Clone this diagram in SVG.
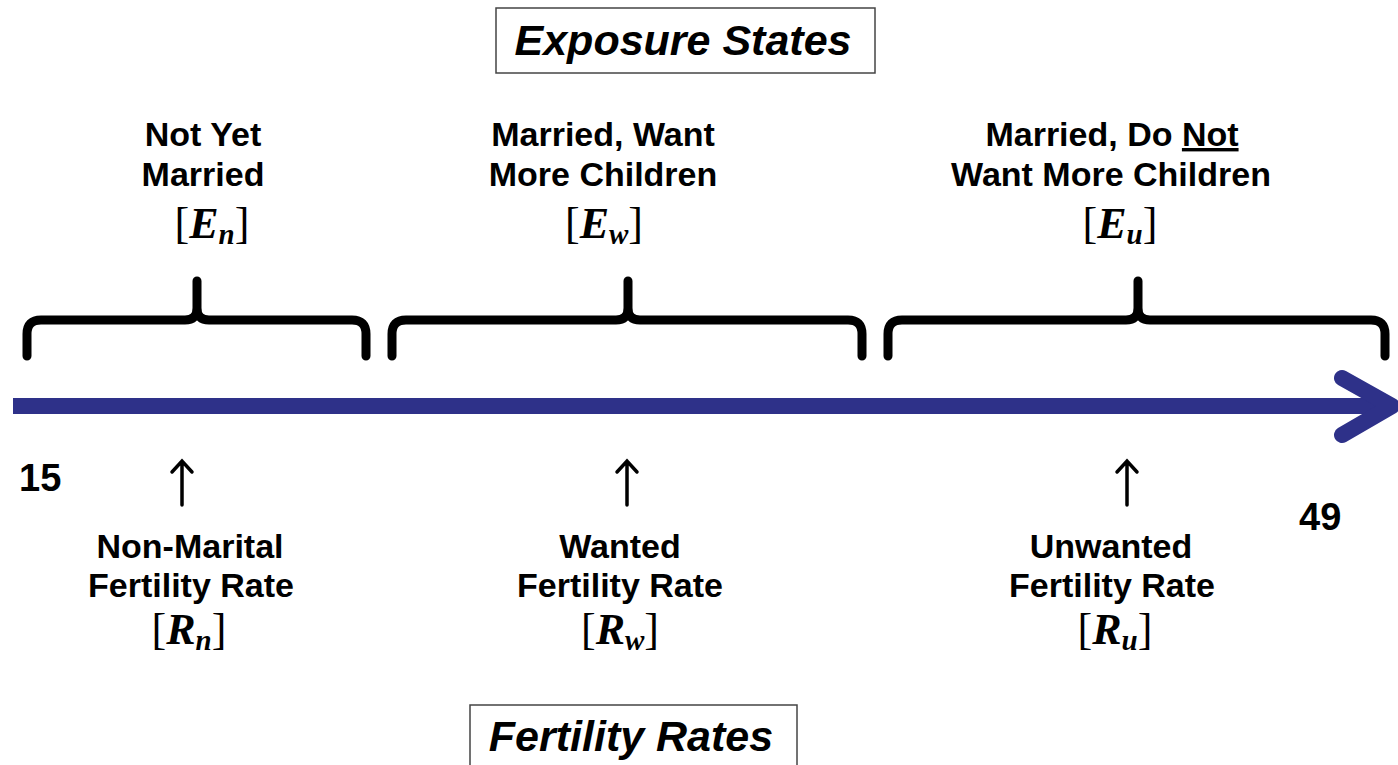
<svg xmlns="http://www.w3.org/2000/svg" width="1398" height="765" viewBox="0 0 1398 765">
<style>
.lbl{font-family:"Liberation Sans",Arial,sans-serif;font-weight:bold;font-size:34px;fill:#000;text-anchor:middle}
.ttl{font-family:"Liberation Sans",Arial,sans-serif;font-weight:bold;font-style:italic;font-size:43px;fill:#000;text-anchor:middle}
.num{font-family:"Liberation Sans",Arial,sans-serif;font-weight:bold;font-size:38px;fill:#000}
.math{font-family:"Liberation Serif","Times New Roman",serif;font-size:44px;fill:#000;text-anchor:middle}
.mi{font-weight:bold;font-style:italic}
.sub{font-weight:bold;font-style:italic;font-size:29px}
.box{fill:#fff;stroke:#444;stroke-width:1.5}
.brace{fill:none;stroke:#000;stroke-width:9;stroke-linecap:round;stroke-linejoin:round}
.up{fill:none;stroke:#000;stroke-width:3.5;stroke-linecap:round}
.axis{fill:none;stroke:#2E3189;stroke-width:16;stroke-linejoin:round}
</style>

<g id="title-exposure">
<rect class="box" x="496" y="8" width="379" height="65"/>
<text class="ttl" x="683" y="55">Exposure States</text>
</g>

<g id="title-fertility">
<rect class="box" x="470" y="705" width="327" height="70"/>
<text class="ttl" x="631" y="751">Fertility Rates</text>
</g>

<g id="axis">
<path class="axis" d="M13,406 H1388"/>
<path class="axis" d="M1342,378 L1392,406 L1342,435" stroke-width="17" stroke-linecap="round"/>
<text class="num" x="19" y="491">15</text>
<text class="num" x="1299" y="530">49</text>
</g>

<g id="state-n">
<path class="brace" d="M27,356 V334 Q27,320 41,320 H185 Q197,320 197,308 V281 M197,308 Q197,320 209,320 H352 Q366,320 366,334 V356"/>
<text class="lbl" x="203" y="146">Not Yet</text>
<text class="lbl" x="203" y="186">Married</text>
<text class="math" x="212" y="238">[<tspan class="mi">E</tspan><tspan class="sub" dy="6">n</tspan><tspan dy="-6">]</tspan></text>
</g>

<g id="state-w">
<path class="brace" d="M392,356 V334 Q392,320 406,320 H616 Q628,320 628,308 V281 M628,308 Q628,320 640,320 H848 Q862,320 862,334 V356"/>
<text class="lbl" x="603" y="146">Married, Want</text>
<text class="lbl" x="603" y="186">More Children</text>
<text class="math" x="604" y="238">[<tspan class="mi">E</tspan><tspan class="sub" dy="6">w</tspan><tspan dy="-6">]</tspan></text>
</g>

<g id="state-u">
<path class="brace" d="M888,356 V334 Q888,320 902,320 H1126 Q1138,320 1138,308 V281 M1138,308 Q1138,320 1150,320 H1371 Q1385,320 1385,334 V356"/>
<text class="lbl" x="1112" y="146">Married, Do <tspan text-decoration="underline">Not</tspan></text>
<text class="lbl" x="1111" y="186">Want More Children</text>
<text class="math" x="1120" y="238">[<tspan class="mi">E</tspan><tspan class="sub" dy="6">u</tspan><tspan dy="-6">]</tspan></text>
</g>

<g id="connectors">
<path class="up" d="M182,505 V461 M172,472 L182,461 L192,472"/>
<path class="up" d="M627,505 V461 M617,472 L627,461 L637,472"/>
<path class="up" d="M1127,505 V461 M1117,472 L1127,461 L1137,472"/>
</g>

<g id="rate-n">
<text class="lbl" x="190" y="558">Non-Marital</text>
<text class="lbl" x="191" y="597">Fertility Rate</text>
<text class="math" x="189" y="644">[<tspan class="mi">R</tspan><tspan class="sub" dy="6">n</tspan><tspan dy="-6">]</tspan></text>
</g>

<g id="rate-w">
<text class="lbl" x="620" y="558">Wanted</text>
<text class="lbl" x="620" y="597">Fertility Rate</text>
<text class="math" x="620" y="644">[<tspan class="mi">R</tspan><tspan class="sub" dy="6">w</tspan><tspan dy="-6">]</tspan></text>
</g>

<g id="rate-u">
<text class="lbl" x="1111" y="558">Unwanted</text>
<text class="lbl" x="1112" y="597">Fertility Rate</text>
<text class="math" x="1115" y="644">[<tspan class="mi">R</tspan><tspan class="sub" dy="6">u</tspan><tspan dy="-6">]</tspan></text>
</g>
</svg>
